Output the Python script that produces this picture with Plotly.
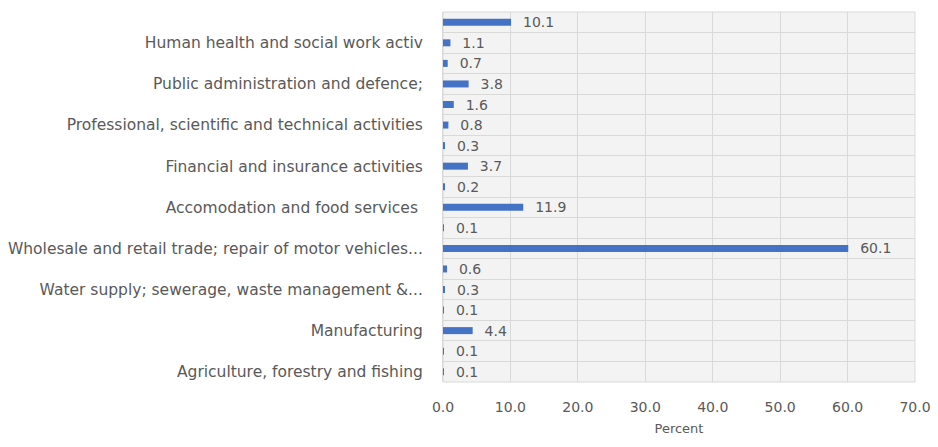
import plotly.graph_objects as go

# Categories bottom-to-top
categories = [
    "Agriculture, forestry and fishing",
    "Mining and quarrying",
    "Manufacturing",
    "Electricity, gas, steam and air conditioning supply",
    "Water supply; sewerage, waste management & remediation",
    "Construction",
    "Wholesale and retail trade; repair of motor vehicles and motorcycles",
    "Transportation and storage",
    "Accomodation and food services",
    "Information and communication",
    "Financial and insurance activities",
    "Real estate activities",
    "Professional, scientific and technical activities",
    "Administrative and support service activities",
    "Public administration and defence; compulsory social security",
    "Education",
    "Human health and social work activities",
    "Arts, entertainment and recreation",
]
values = [0.1, 0.1, 4.4, 0.1, 0.3, 0.6, 60.1, 0.1, 11.9, 0.2, 3.7, 0.3, 0.8, 1.6, 3.8, 0.7, 1.1, 10.1]
tick_labels = [
    "Agriculture, forestry and fishing", "",
    "Manufacturing", "",
    "Water supply; sewerage, waste management &...", "",
    "Wholesale and retail trade; repair of motor vehicles...", "",
    "Accomodation and food services ", "",
    "Financial and insurance activities", "",
    "Professional, scientific and technical activities", "",
    "Public administration and defence;", "",
    "Human health and social work activ", "",
]
x_ticks = [0, 10, 20, 30, 40, 50, 60, 70]

FONT = "DejaVu Sans"
GRAY = "#595959"
GRID = "#d9d9d9"

fig = go.Figure(go.Bar(
    x=values, y=categories, orientation="h",
    marker=dict(color="#4472C4", line=dict(width=0)),
    width=0.34,
    text=["  " + f"{v:.1f}" for v in values],
    textposition="outside", cliponaxis=False, constraintext="none",
    textfont=dict(family=FONT, size=14, color=GRAY),
))

fig.update_layout(
    width=930, height=439,
    margin=dict(l=435, r=23, t=4, b=65),
    paper_bgcolor="white", plot_bgcolor="#f3f3f3",
    showlegend=False,
    font=dict(family=FONT, size=14, color=GRAY),
)
fig.update_xaxes(
    range=[0, 70], tickvals=x_ticks, ticktext=[f"{t:.1f}" for t in x_ticks],
    showgrid=True, gridcolor=GRID, gridwidth=1,
    zeroline=False, showline=False,
    ticks="outside", ticklen=12, tickcolor="rgba(0,0,0,0)",
    title=dict(text="Percent", font=dict(family=FONT, size=13, color=GRAY), standoff=10),
    tickfont=dict(family=FONT, size=14, color=GRAY),
    automargin=False,
)
fig.update_yaxes(
    type="category", categoryorder="array", categoryarray=categories,
    tickvals=categories, ticktext=tick_labels,
    tickson="boundaries", showgrid=True, gridcolor=GRID, gridwidth=1,
    ticks="", ticklen=0, showline=True, linecolor=GRID,
    ticklabelstandoff=16,
    tickfont=dict(family=FONT, size=15.5, color=GRAY),
    range=[-0.5, len(categories) - 0.5],
    automargin=False,
)
fig.add_shape(type="rect", xref="paper", yref="paper", x0=0, x1=1, y0=0, y1=1,
              line=dict(color=GRID, width=1), layer="below")

fig.write_html("out.html")
